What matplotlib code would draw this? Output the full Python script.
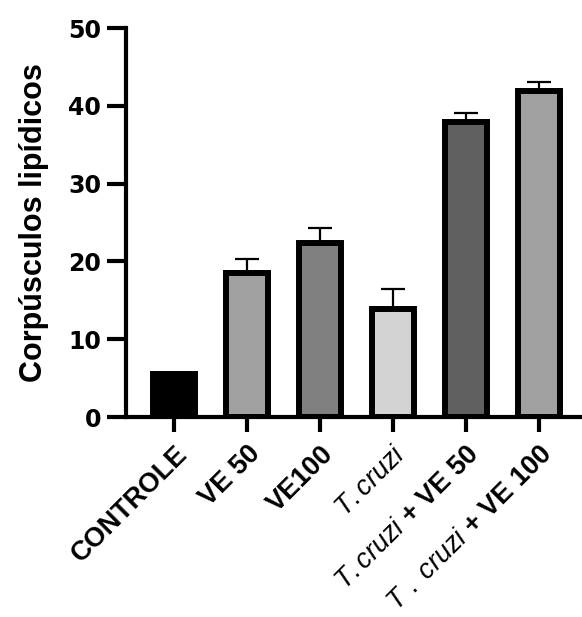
import numpy as np
import matplotlib
matplotlib.use("Agg")
import matplotlib.pyplot as plt

plt.rcParams['font.family'] = ['Liberation Sans', 'DejaVu Sans']
plt.rcParams['mathtext.fontset'] = 'custom'
plt.rcParams['mathtext.rm'] = 'Liberation Sans'
plt.rcParams['mathtext.it'] = 'Liberation Sans:italic'
plt.rcParams['mathtext.bf'] = 'Liberation Sans:bold'

# data
groups = ["CONTROLE", "VE 50", "VE100", r"$\mathit{T.cruzi}$",
          r"$\mathit{T.cruzi}$ + VE 50", r"$\mathit{T\ .\ cruzi}$ + VE 100"]
means = [5.5, 18.5, 22.4, 13.9, 37.9, 41.9]
sem = [0.0, 1.8, 1.9, 2.5, 1.2, 1.2]
colors = ["#000000", "#a0a0a0", "#808080", "#d3d3d3", "#606060", "#a0a0a0"]

fig = plt.figure(figsize=(5.82, 6.17), dpi=100)
ax = fig.add_axes([0.2165, 0.324, 0.7835, 0.6306])

x = np.arange(len(groups))
ax.errorbar(x, means, yerr=[np.zeros(len(sem)), sem], fmt='none',
            ecolor='black', elinewidth=1.6, capsize=8.5, capthick=1.6, zorder=2)
ax.bar(x, means, width=0.58, color=colors, edgecolor='black', linewidth=4.3, zorder=3)

ax.set_xlim(-0.66, 5.59)
ax.set_ylim(0, 50)
ax.set_yticks([0, 10, 20, 30, 40, 50])
ax.set_yticklabels(["0", "10", "20", "30", "40", "50"], family='DejaVu Sans',
                   fontweight='bold', fontsize=17)
ax.set_xticks(x)
ax.set_xticklabels(groups, rotation=45, ha='right', rotation_mode='anchor',
                   fontsize=19.5, fontweight='bold')
ax.tick_params(axis='y', width=3, length=14, pad=4)
ax.tick_params(axis='x', width=3, length=11, pad=6)
ax.set_ylabel("Corpúsculos lipídicos", fontsize=22, fontweight='bold', labelpad=14)

for s in ['top', 'right']:
    ax.spines[s].set_visible(False)
for s in ['left', 'bottom']:
    ax.spines[s].set_linewidth(3)

fig.savefig("out.png", dpi=100)
